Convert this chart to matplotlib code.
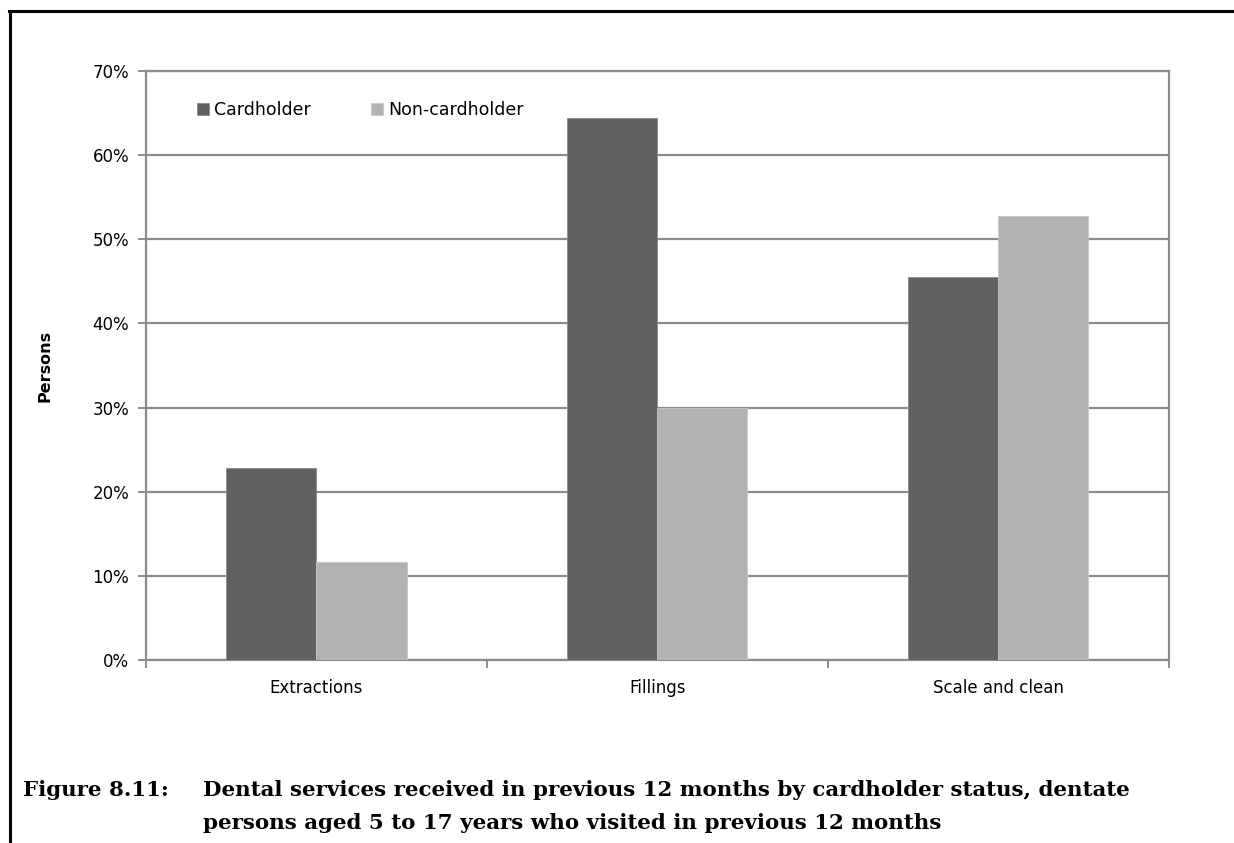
import numpy as np
import matplotlib
import matplotlib.pyplot as plt
from matplotlib.lines import Line2D
from matplotlib.ticker import FuncFormatter

matplotlib.use('agg')

categories = ['Extractions', 'Fillings', 'Scale and clean']
cardholder = [22.8, 64.4, 45.5]
non_cardholder = [11.7, 30.0, 52.8]
series_names = ['Cardholder', 'Non-cardholder']
colors = ['#616161', '#b2b2b2']
grid_color = '#8c8c8c'

fig = plt.figure(figsize=(12.34, 8.43), dpi=100)
ax = fig.add_axes([0.1183, 0.2171, 0.829, 0.6987])

x = np.arange(len(categories))
w = 0.264
ax.bar(x - w / 2, cardholder, w, color=colors[0], edgecolor='#8a8a8a', linewidth=0.6, label=series_names[0], zorder=3)
ax.bar(x + w / 2, non_cardholder, w, color=colors[1], edgecolor='#c8c8c8', linewidth=0.6, label=series_names[1], zorder=3)

ax.set_xlim(-0.5, len(categories) - 0.5)
ax.set_ylim(0, 70)
ax.set_yticks(np.arange(0, 71, 10))
ax.yaxis.set_major_formatter(FuncFormatter(lambda v, p: f'{int(v)}%'))
ax.yaxis.grid(True, color=grid_color, linewidth=1.6, zorder=0)
ax.set_axisbelow(True)

ax.set_xticks(x)
ax.set_xticklabels(categories)
ax.set_xticks(np.arange(-0.5, len(categories), 1), minor=True)
ax.tick_params(axis='x', which='major', length=0, pad=14, labelsize=12)
ax.tick_params(axis='x', which='minor', length=6, width=1.4, color=grid_color)
ax.tick_params(axis='y', length=6, width=1.4, color=grid_color, labelsize=12, pad=6)

for s in ax.spines.values():
    s.set_color(grid_color)
    s.set_linewidth(1.6)

ax.set_ylabel('Persons', fontsize=11.5, fontweight='bold', labelpad=29)

ax.legend(loc='upper left', bbox_to_anchor=(0.035, 0.975), ncol=2, frameon=False,
          fontsize=12.5, handlelength=0.65, handleheight=0.65, handletextpad=0.3,
          columnspacing=3.5)

# border lines around the chart
fig.add_artist(Line2D([9 / 1234, 1], [1 - 11 / 843, 1 - 11 / 843], color='black', linewidth=2.2, transform=fig.transFigure))
fig.add_artist(Line2D([10 / 1234, 10 / 1234], [0, 1 - 11 / 843], color='black', linewidth=2.2, transform=fig.transFigure))

cap_font = dict(family='DejaVu Serif', fontsize=15.4, fontweight='bold', va='baseline')
fig.text(23 / 1234, 1 - 796 / 843, 'Figure 8.11:', **cap_font)
fig.text(203 / 1234, 1 - 796 / 843, 'Dental services received in previous 12 months by cardholder status, dentate', **cap_font)
fig.text(203 / 1234, 1 - 829 / 843, 'persons aged 5 to 17 years who visited in previous 12 months', **cap_font)

fig.savefig('out.png', dpi=100)
